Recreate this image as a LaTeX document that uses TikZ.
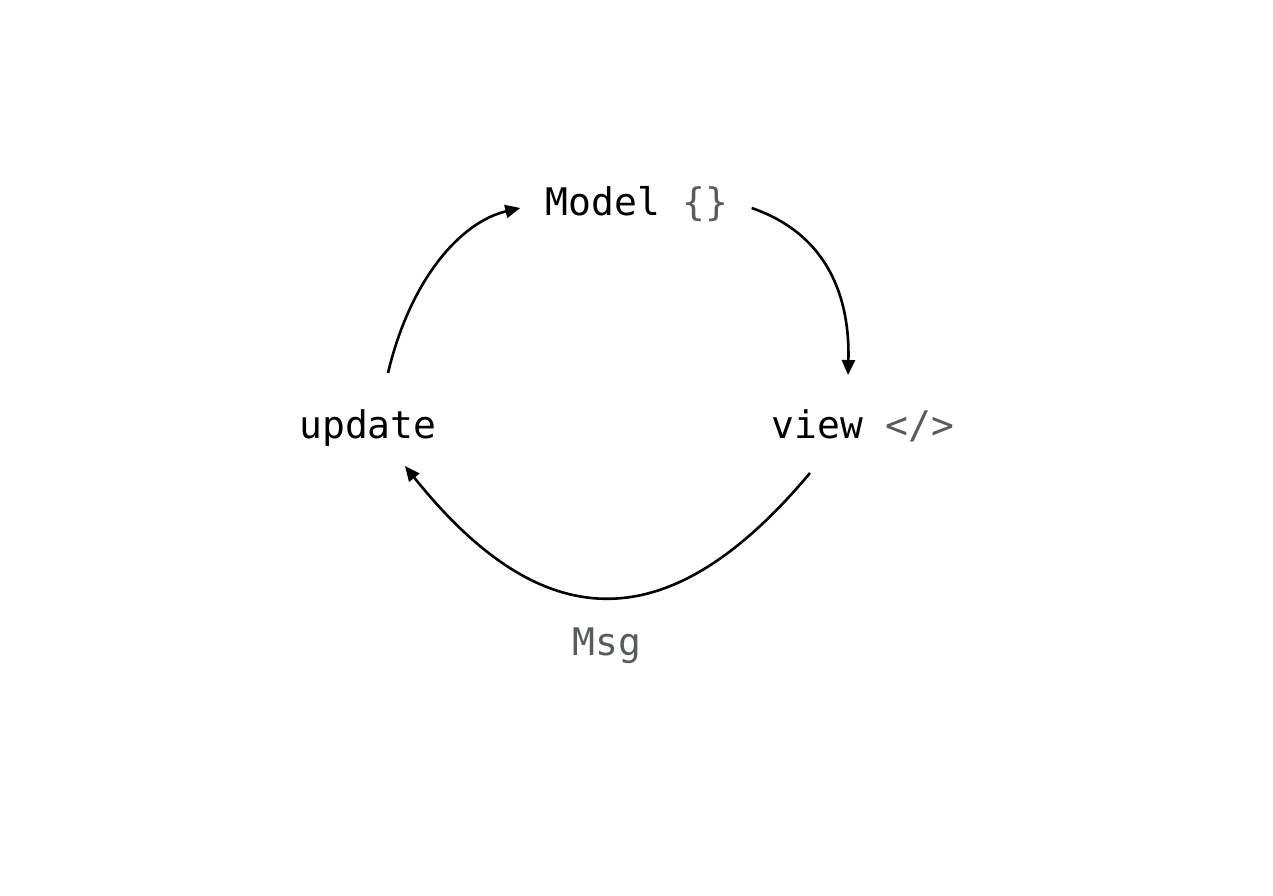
\documentclass[tikz,border=0pt]{standalone}
\usepackage{fontspec}
\setmonofont{DejaVu Sans Mono}
\usetikzlibrary{arrows.meta}
\definecolor{dimtext}{RGB}{88,92,96}
\tikzset{
  lbl/.style={font=\ttfamily\fontsize{38}{40}\selectfont, inner sep=0pt, anchor=base, text=black},
  cyc/.style={line width=2.6pt, draw=black, -{Triangle[length=15pt,width=13pt]}}
}
\begin{document}
\begin{tikzpicture}[x=1pt,y=-1pt]
\useasboundingbox (0,0) rectangle (1273,895);
\node[lbl] (model) at (637,215) {Model \textcolor{dimtext}{\{\}}};
\node[lbl] (upd) at (368,438) {update};
\node[lbl] (view) at (863,438) {view \textcolor{dimtext}{</>}};
\node[lbl, text=dimtext] (msg) at (607,655) {Msg};
\draw[cyc] ([shift={(20,-65)}]upd.base) .. controls +(22,-93) and +(-60,14) .. ([shift={(-25,-7)}]model.base west);
\draw[cyc] ([shift={(23,-7)}]model.base east) .. controls +(78,27) and +(2,-75) .. ([shift={(-15,-63)}]view.base);
\draw[cyc] ([shift={(-53,35)}]view.base) .. controls +(-140,167) and +(139,174) .. ([shift={(37,28)}]upd.base);
\end{tikzpicture}
\end{document}
